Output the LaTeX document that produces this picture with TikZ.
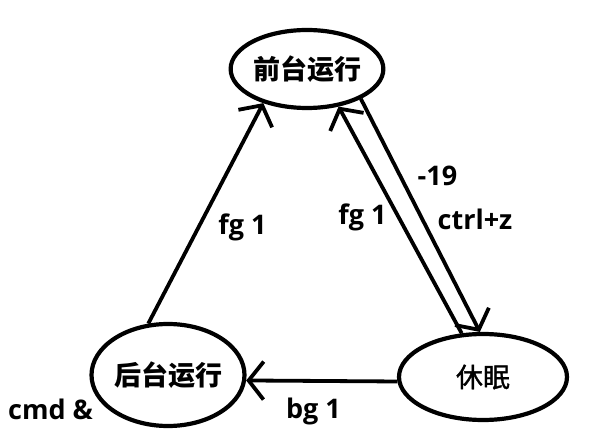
\documentclass[tikz,border=0pt]{standalone}
\usepackage{fontspec}
\setmainfont{Open Sans}
\newfontfamily\cjk{Noto Sans CJK SC}
\newfontfamily\cjkmed[FakeBold=1.2]{Noto Sans CJK SC}
\usetikzlibrary{shapes.geometric,arrows.meta}
\tikzset{
  state/.style={draw, ellipse, line width=4.2pt, inner sep=0pt},
  conn/.style={line width=3.8pt, -{Straight Barb[length=15pt,width=38pt]}},
  lbl/.style={anchor=base, inner sep=0pt, font=\fontsize{27}{30}\selectfont\bfseries},
  cjklbl/.style={font=\fontsize{27}{30}\selectfont\cjk\bfseries}
}
\begin{document}
\begin{tikzpicture}[x=1pt,y=-1pt]
\useasboundingbox (0,0) rectangle (600,446);
\node[state, cjklbl, minimum width=136pt, minimum height=78pt] (fg) at (307,69) {前台运行};
\node[state, cjklbl, minimum width=153pt, minimum height=102pt] (bgn) at (168,375) {后台运行};
\node[state, font=\fontsize{27}{30}\selectfont\cjkmed, minimum width=168pt, minimum height=86pt] (sl) at (483,377) {休眠};
\draw[conn] (bgn.111) -- (fg.218);
\draw[conn] (sl.116) -- (fg.310);
\draw[conn] (fg.331) -- (sl.94);
\draw[conn] (sl.183) -- (bgn.-4);
\node[lbl] (l1) at (242.5,235) {fg 1};
\node[lbl] (l2) at (362.5,225) {fg 1};
\node[lbl] (l3) at (437.5,186) {-19};
\node[lbl] (l4) at (475,230) {ctrl+z};
\node[lbl] (l5) at (313.5,418) {bg 1};
\node[lbl] (l6) at (50.5,420) {cmd \&};
\end{tikzpicture}
\end{document}
